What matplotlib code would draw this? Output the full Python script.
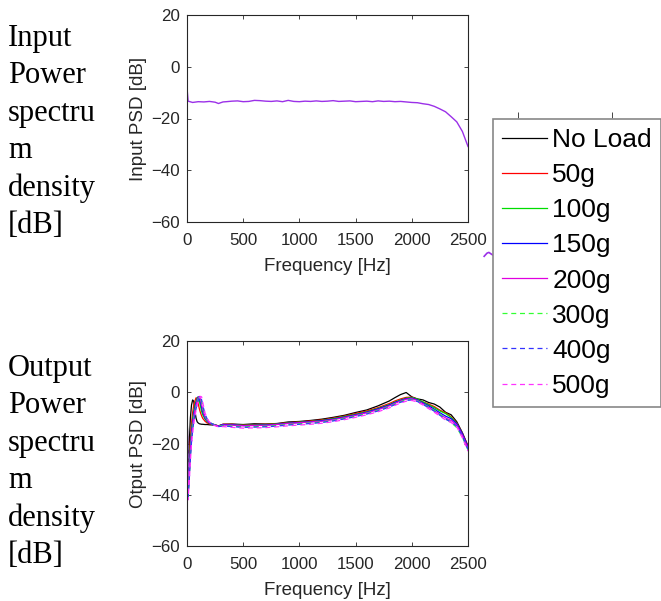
import numpy as np
import matplotlib
matplotlib.use("Agg")
import matplotlib.pyplot as plt

# ---- data ----
labels = ["No Load", "50g", "100g", "150g", "200g", "300g", "400g", "500g"]
colors = ["#000000", "#ff0000", "#00dd00", "#0000ff", "#e000e0", "#33ff33", "#3333ff", "#ff33ff"]
styles = ["-", "-", "-", "-", "-", "--", "--", "--"]

# input PSD (all loads overlap)
f_in = [0, 10, 50, 100, 150, 200, 250, 280, 320, 350, 400, 450, 500, 550, 600, 650,
        700, 750, 800, 850, 900, 950, 1000, 1050, 1100, 1150, 1200, 1250, 1300, 1350,
        1400, 1450, 1500, 1550, 1600, 1650, 1700, 1750, 1800, 1850, 1900, 1950, 2000,
        2050, 2100, 2150, 2200, 2250, 2300, 2350, 2400, 2450, 2500]
psd_in = [-8.2, -13.3, -13.8, -13.5, -13.6, -13.4, -13.7, -14.2, -13.6, -13.5, -13.3,
          -13.2, -13.5, -13.4, -13.0, -13.1, -13.3, -13.4, -13.2, -13.5, -13.0, -13.4,
          -13.5, -13.3, -13.4, -13.2, -13.4, -13.3, -13.1, -13.4, -13.3, -13.2, -13.5,
          -13.4, -13.3, -13.5, -13.2, -13.4, -13.3, -13.5, -13.4, -13.6, -13.8, -13.9,
          -14.3, -14.6, -15.3, -16.3, -17.4, -19.3, -21.3, -25.0, -30.8]

# output PSD per load
f_out = [0, 10, 20, 30, 40, 50, 60, 70, 80, 90, 100, 110, 120, 130, 140, 160, 180, 200,
         240, 280, 320, 400, 500, 600, 700, 800, 900, 1000, 1100, 1200, 1300, 1400, 1500,
         1600, 1700, 1800, 1850, 1900, 1950, 2000, 2050, 2100, 2150, 2200, 2250, 2300,
         2350, 2400, 2450, 2500]
psd_noload = [0, -38, -20, -10, -5, -3, -3.5, -7, -10, -11.5, -12, -12.3, -12.4, -12.5,
              -12.5, -12.6, -12.6, -12.7, -12.8, -13.2, -12.5,
              -12.4, -12.6, -12.3, -12.4, -12.2, -11.6, -11.4, -11.0, -10.5, -9.8, -9.0,
              -7.9, -6.9, -5.3, -3.4, -2.1, -0.9, -0.1, -1.8, -2.6, -3.0, -4.0, -4.6,
              -5.8, -7.8, -8.8, -11.5, -15.8, -21.0]
psd_50g = [0, -39, -28, -18, -12, -8, -5, -3.5, -2.2, -2.3, -4.5, -6.5, -8, -9.2, -10.2,
           -11.3, -12, -12.3, -12.6, -13.1, -12.5,
           -12.5, -12.8, -12.6, -12.5, -12.3, -11.9, -11.6, -11.2, -10.8, -10.1, -9.3,
           -8.3, -7.3, -6.0, -4.4, -3.4, -2.6, -2.0, -1.9, -2.8, -3.8, -4.6, -5.6,
           -7.0, -8.0, -9.6, -12.0, -16.0, -21.0]
psd_100g = [0, -39, -30, -21, -15, -10.5, -7, -5, -3.5, -2.2, -1.8, -3.5, -5.5, -7.5,
            -8.8, -10.5, -11.5, -12.1, -12.6, -13.2, -12.6,
            -12.6, -12.9, -12.8, -12.6, -12.4, -12.0, -11.7, -11.4, -11.0, -10.3, -9.5,
            -8.6, -7.6, -6.3, -4.8, -3.8, -3.0, -2.3, -2.1, -2.7, -3.8, -4.9, -6.0,
            -7.3, -8.3, -9.8, -12.2, -16.3, -21.5]
psd_150g = [0, -40, -31, -23, -16, -12, -8.5, -6, -4.2, -2.8, -1.8, -2, -4, -6, -7.8,
            -10, -11.3, -12, -12.6, -13.2, -12.6,
            -12.7, -13.0, -12.9, -12.8, -12.5, -12.1, -11.8, -11.5, -11.1, -10.5, -9.7,
            -8.8, -7.8, -6.5, -5.0, -4.0, -3.2, -2.5, -2.3, -3.0, -4.2, -5.3, -6.6,
            -8.0, -9.3, -10.3, -12.3, -16.2, -21.3]
psd_200g = [0, -40, -32, -24, -17.5, -13, -9.5, -7, -5, -3.3, -2.2, -1.6, -2.8, -4.8,
            -6.8, -9.5, -11, -11.9, -12.7, -13.3, -12.8,
            -12.8, -13.1, -13.0, -12.9, -12.6, -12.2, -11.9, -11.6, -11.3, -10.7, -9.9,
            -9.0, -8.0, -6.8, -5.3, -4.3, -3.4, -2.7, -2.5, -3.2, -4.5, -5.8, -7.2,
            -8.6, -10.0, -11.0, -12.8, -16.8, -21.8]
psd_300g = [0, -41, -33, -25, -18.5, -14, -10.5, -8, -5.8, -4, -2.8, -1.8, -2, -3.8,
            -5.8, -9, -10.8, -11.8, -12.7, -13.3, -13.0,
            -13.2, -13.5, -13.4, -13.3, -13.0, -12.6, -12.3, -12.0, -11.6, -11.0, -10.2,
            -9.3, -8.3, -7.1, -5.6, -4.6, -3.7, -3.0, -2.8, -3.4, -4.6, -5.8, -7.0,
            -8.5, -10.3, -11.8, -13.8, -17.5, -22.5]
psd_400g = [0, -41, -34, -26, -19.5, -15, -11.5, -8.8, -6.5, -4.6, -3.2, -2.2, -1.6,
            -3, -5, -8.5, -10.5, -11.7, -12.8, -13.4, -13.2,
            -13.4, -13.7, -13.6, -13.5, -13.2, -12.8, -12.5, -12.2, -11.8, -11.2, -10.4,
            -9.5, -8.5, -7.3, -5.8, -4.8, -3.9, -3.2, -3.0, -3.6, -4.8, -6.0, -7.4,
            -9.0, -10.5, -11.6, -13.2, -17.2, -22.3]
psd_500g = [0, -42, -35, -27, -20.5, -16, -12.5, -9.5, -7.2, -5.2, -3.7, -2.5, -1.6,
            -1.8, -4, -8, -10.3, -11.6, -12.9, -13.5, -13.4,
            -13.7, -14.0, -13.9, -13.8, -13.5, -13.1, -12.8, -12.5, -12.1, -11.5, -10.7,
            -9.8, -8.8, -7.6, -6.1, -5.1, -4.2, -3.5, -3.2, -3.8, -5.0, -6.4, -7.8,
            -9.3, -10.8, -11.8, -13.5, -17.8, -23.0]
psd_out = [psd_noload, psd_50g, psd_100g, psd_150g, psd_200g, psd_300g, psd_400g, psd_500g]

# stray fragment of a hidden plot behind the legend
stray_f = [320, 335, 345, 355, 370, 600, 900, 1200, 1250, 1300]
stray_y = [-35.5, -34.3, -34.0, -34.5, -35.2, -35.0, -34.8, -34.6, -34.4, -34.7]

txt = "#262626"
plt.rcParams["font.family"] = ["Liberation Sans", "DejaVu Sans"]

W, H = 661, 601
fig = plt.figure(figsize=(W / 100, H / 100), dpi=100)


def px_axes(x0, y0, x1, y1):
    return fig.add_axes([x0 / W, 1 - y1 / H, (x1 - x0) / W, (y1 - y0) / H])


def style(ax, ylab):
    ax.set_xlim(0, 2500)
    ax.set_ylim(-60, 20)
    ax.set_xticks([0, 500, 1000, 1500, 2000, 2500])
    ax.set_yticks([-60, -40, -20, 0, 20])
    ax.tick_params(direction="in", length=3, width=0.6, top=True, right=True,
                   labelsize=12.2, colors=txt)
    ax.tick_params(axis="x", pad=8)
    ax.tick_params(axis="y", pad=5)
    for s in ax.spines.values():
        s.set_linewidth(0.8)
        s.set_color(txt)
    ax.set_xlabel("Frequency [Hz]", fontsize=13.5, color=txt, labelpad=7)
    ax.set_ylabel(ylab, fontsize=13.5, color=txt, labelpad=3)


# stray hidden axes (mostly covered by legend)
ax3 = px_axes(424, 112, 894, 320)
ax3.set_xlim(0, 2500)
ax3.set_ylim(-60, 20)
ax3.plot(stray_f, stray_y, color="#9b30e8", lw=1.2)
for s in ax3.spines.values():
    s.set_visible(False)
ax3.set_xticks([500, 1000])
ax3.set_yticks([])
ax3.tick_params(axis="x", direction="in", length=4, width=0.6, top=True, bottom=False,
                labeltop=False, labelbottom=False, colors=txt)
ax3.patch.set_alpha(0)

ax1 = px_axes(187, 15, 468, 222)
ax1.plot(f_in, psd_in, color="#9b30e8", lw=1.0)
style(ax1, "Input PSD [dB]")

ax2 = px_axes(187, 341, 468, 546)
handles = []
for y, c, ls, lab in zip(psd_out, colors, styles, labels):
    h, = ax2.plot(f_out, y, color=c, ls=ls, lw=0.9, label=lab,
                  dashes=(4, 3) if ls == "--" else (None, None))
    handles.append(h)
style(ax2, "Otput PSD [dB]")

leg = fig.legend(handles=handles, labels=labels, loc="upper left",
                 bbox_to_anchor=(493 / W, 1 - 119 / H), borderaxespad=0,
                 fontsize=19, frameon=True, fancybox=False, edgecolor="#888888",
                 handlelength=1.7, handletextpad=0.2, labelspacing=0.42,
                 borderpad=0.35, framealpha=1)
leg.get_frame().set_linewidth(1.2)
leg.set_zorder(10)

fig.text(8 / W, 1 - 24 / H, "Input\nPower\nspectru\nm\ndensity\n[dB]",
         family="Liberation Serif", fontsize=22, va="top", ha="left", linespacing=1.38)
fig.text(8 / W, 1 - 354 / H, "Output\nPower\nspectru\nm\ndensity\n[dB]",
         family="Liberation Serif", fontsize=22, va="top", ha="left", linespacing=1.38)

fig.savefig("out.png", dpi=100)
